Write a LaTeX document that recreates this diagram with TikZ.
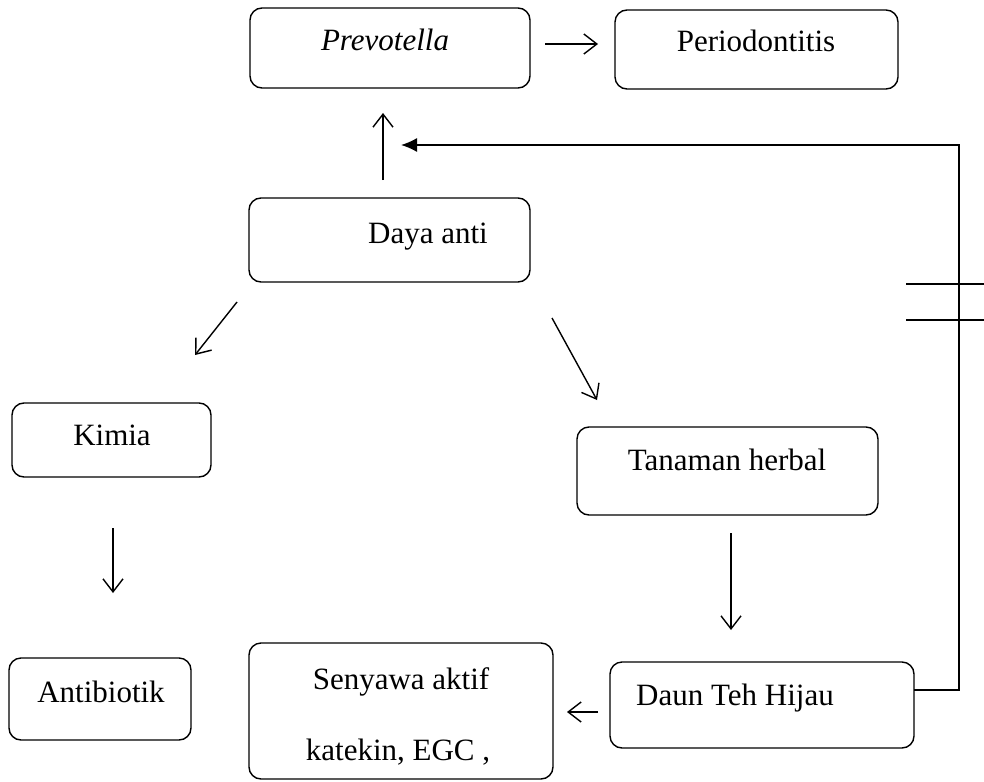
\documentclass[tikz,border=0pt]{standalone}
\usepackage{fontspec}
\setmainfont{Liberation Serif}
\usetikzlibrary{arrows.meta,calc}
\begin{document}
\begin{tikzpicture}[x=1pt,y=-1pt,
  box/.style={draw, rounded corners=12pt, line width=1.4pt, inner sep=0pt},
  txt/.style={anchor=base, inner sep=0pt, font=\fontsize{31}{37}\selectfont},
  arr/.style={line width=1.4pt, -{Straight Barb[length=13pt,width=20pt,line width=1.4pt]}},
  fb/.style={line width=1.4pt, -{Latex[length=16pt,width=14pt]}},
  tick/.style={line width=1.4pt}]
\useasboundingbox (0,0) rectangle (984,781);
% boxes
\node[box, minimum width=280pt, minimum height=80pt] (prev) at (390,48) {};
\node[box, minimum width=283pt, minimum height=79pt] (peri) at (756.5,49.5) {};
\node[box, minimum width=281pt, minimum height=84pt] (daya) at (389.5,240) {};
\node[box, minimum width=199pt, minimum height=74pt] (kimia) at (111.5,440) {};
\node[box, minimum width=301pt, minimum height=88pt] (tana) at (727.5,471) {};
\node[box, minimum width=182pt, minimum height=82pt] (anti) at (100,699) {};
\node[box, minimum width=304pt, minimum height=86pt] (daun) at (762,705) {};
\node[box, minimum width=304pt, minimum height=136pt] (seny) at (401,711) {};
% texts
\node[txt] (tprev) at (385,51) {\textit{Prevotella}};
\node[txt] (tperi) at (756,52) {Periodontitis};
\node[txt] (tdaya) at (428,243) {Daya anti};
\node[txt] (tkimia) at (112,445) {Kimia};
\node[txt] (ttana) at (727,470) {Tanaman herbal};
\node[txt] (tanti) at (101,702) {Antibiotik};
\node[txt] (tdaun) at (735,705) {Daun Teh Hijau};
\node[txt] (tseny1) at (401,689) {Senyawa aktif};
\node[txt] (tseny2) at (398,760) {katekin, EGC ,};
% arrow end points
\coordinate (a1s) at (545,44);  \coordinate (a1e) at (598,44);
\coordinate (a2s) at (383,180); \coordinate (a2e) at (383,113);
\coordinate (a3s) at (237,302); \coordinate (a3e) at (195,355);
\coordinate (a4s) at (552,318); \coordinate (a4e) at (597,400);
\coordinate (a5s) at (113,528); \coordinate (a5e) at (113,593);
\coordinate (a6s) at (731,533); \coordinate (a6e) at (731,630);
\coordinate (a7s) at (598,712); \coordinate (a7e) at (567,712);
\coordinate (fbs) at (914,690); \coordinate (fbc1) at (959,690);
\coordinate (fbc2) at (959,145); \coordinate (fbe) at (401,145);
\coordinate (t1s) at (906,284); \coordinate (t1e) at (984,284);
\coordinate (t2s) at (906,320); \coordinate (t2e) at (984,320);
% connectors
\draw[arr] (a1s) -- (a1e);
\draw[arr] (a2s) -- (a2e);
\draw[arr] (a3s) -- (a3e);
\draw[arr] (a4s) -- (a4e);
\draw[arr] (a5s) -- (a5e);
\draw[arr] (a6s) -- (a6e);
\draw[arr] (a7s) -- (a7e);
\draw[fb] (fbs) -- (fbc1) -- (fbc2) -- (fbe);
\draw[tick] (t1s) -- (t1e);
\draw[tick] (t2s) -- (t2e);
\end{tikzpicture}
\end{document}
